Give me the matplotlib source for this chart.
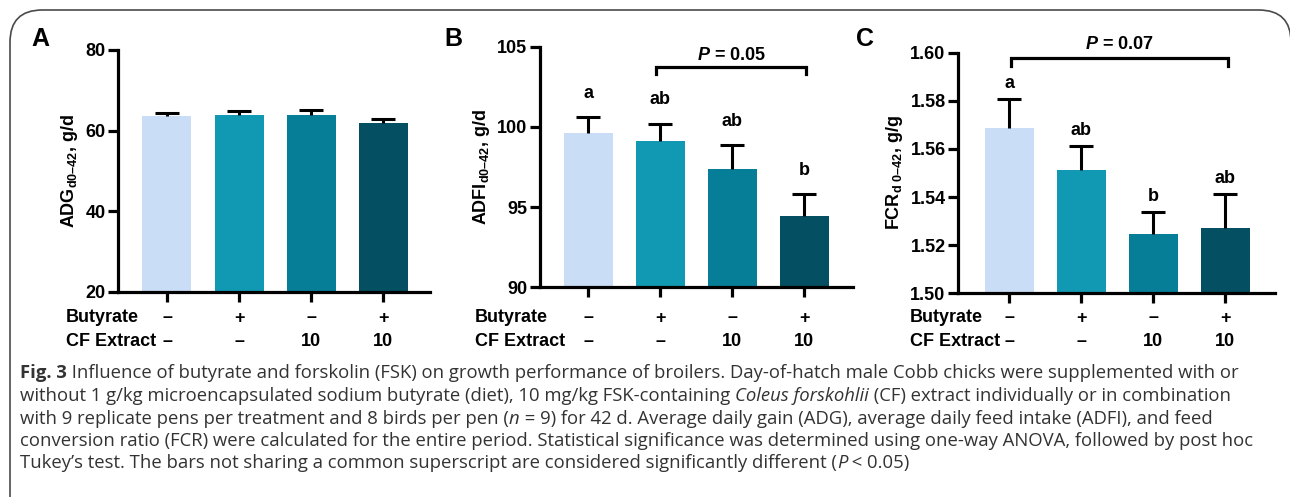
import matplotlib
matplotlib.use("Agg")
import matplotlib.pyplot as plt
from matplotlib.patches import FancyBboxPatch

W, H = 1290, 497

# -------- DATA -------- #
groups = [0, 1, 2, 3]
butyrate = ["\u2013", "+", "\u2013", "+"]
cf_extract = ["\u2013", "\u2013", "10", "10"]
colors = ["#C9DDF6", "#1199B3", "#077E97", "#044F61"]

adg = [63.6, 63.9, 63.9, 61.8]
adg_err = [0.7, 1.0, 1.2, 1.2]

adfi = [99.6, 99.1, 97.4, 94.45]
adfi_err = [1.0, 1.1, 1.45, 1.35]
adfi_letters = ["a", "ab", "ab", "b"]

fcr = [1.5687, 1.5512, 1.5246, 1.527]
fcr_err = [0.0121, 0.0101, 0.0091, 0.0143]
fcr_letters = ["a", "ab", "b", "ab"]

plt.rcParams["font.family"] = "Liberation Sans"
plt.rcParams["font.weight"] = "bold"
plt.rcParams["mathtext.fontset"] = "custom"
plt.rcParams["mathtext.rm"] = "Liberation Sans:bold"
plt.rcParams["mathtext.it"] = "Liberation Sans:bold:italic"
plt.rcParams["mathtext.bf"] = "Liberation Sans:bold"

fig = plt.figure(figsize=(W / 100, H / 100), dpi=100)

# frame around the figure (open at the bottom, right edge at the image border)
frame = FancyBboxPatch((10 / W, -0.2), 1281 / W, 1.2 - 10 / H,
                       boxstyle="round,pad=0,rounding_size=0.025",
                       transform=fig.transFigure, fill=False,
                       edgecolor="#4a4a4a", linewidth=1.2, mutation_aspect=W / H)
fig.patches.append(frame)


def px_axes(l, t, r, b):
    return fig.add_axes([l / W, 1 - b / H, (r - l) / W, (b - t) / H])


def panel(ax, vals, errs, ylim, yticks, fmt, xlim, ylabel, rowx):
    ax.bar(groups, vals, width=0.68, color=colors, zorder=2)
    eb = ax.errorbar(groups, vals, yerr=[[0] * 4, errs], fmt="none", ecolor="black",
                     elinewidth=2.2, capsize=8.5, capthick=2.2, zorder=3)
    eb[1][0].set_visible(False)  # no cap at the bar top
    ax.set_ylim(*ylim)
    ax.set_xlim(*xlim)
    ax.set_yticks(yticks)
    ax.set_yticklabels([fmt.format(v) for v in yticks], fontsize=13, fontweight="bold")
    ax.set_xticks(groups)
    ax.set_xticklabels([])
    for s in ["top", "right"]:
        ax.spines[s].set_visible(False)
    for s in ["left", "bottom"]:
        ax.spines[s].set_linewidth(2.3)
    ax.tick_params(axis="both", length=7, width=2.3, pad=2)
    ax.set_ylabel(ylabel, fontsize=13, fontweight="bold", labelpad=4)
    for i in groups:
        ax.annotate(butyrate[i], (i, H - 318), xycoords=("data", "figure pixels"),
                    ha="center", va="center", fontsize=13, fontweight="bold")
        ax.annotate(cf_extract[i], (i, H - 342), xycoords=("data", "figure pixels"),
                    ha="center", va="center", fontsize=13, fontweight="bold")
    fig.text(rowx / W, 1 - 318 / H, "Butyrate", ha="left", va="center",
             fontsize=13, fontweight="bold")
    fig.text(rowx / W, 1 - 342 / H, "CF Extract", ha="left", va="center",
             fontsize=13, fontweight="bold")


def letters(ax, vals, errs, labels, off):
    for i in groups:
        ax.annotate(labels[i], (i, vals[i] + errs[i]), xytext=(0, off),
                    textcoords="offset points", ha="center", va="baseline",
                    fontsize=13, fontweight="bold")


def bracket(ax, i0, i1, y, drop, label, ty):
    ax.plot([i0, i0, i1, i1], [y - drop, y, y, y - drop], color="black",
            linewidth=2.3, clip_on=False, solid_joinstyle="miter")
    ax.text((i0 + i1) / 2, ty, label, ha="center", va="baseline",
            fontsize=13, fontweight="bold", clip_on=False)


# -------- PANEL A -------- #
axA = px_axes(118, 50, 430, 292)
panel(axA, adg, adg_err, (20, 80), [20, 40, 60, 80], "{:.0f}", (-0.68, 3.65),
      "ADG$_{\\mathrm{d0\u201342}}$, g/d", 66)

# -------- PANEL B -------- #
axB = px_axes(540, 46.7, 853, 287.3)
panel(axB, adfi, adfi_err, (90, 105), [90, 95, 100, 105], "{:.0f}", (-0.667, 3.68),
      "ADFI$_{\\mathrm{d0\u201342}}$, g/d", 475)
letters(axB, adfi, adfi_err, adfi_letters, 14)
bracket(axB, 0.95, 3.03, 103.75, 0.45, "$P$ = 0.05", 104.2)

# -------- PANEL C -------- #
axC = px_axes(958, 52.7, 1275, 293.3)
panel(axC, fcr, fcr_err, (1.50, 1.60), [1.50, 1.52, 1.54, 1.56, 1.58, 1.60], "{:.2f}",
      (-0.715, 3.69), "FCR$_{\\mathrm{d\\ 0\u201342}}$, g/g", 910)
letters(axC, fcr, fcr_err, fcr_letters, 8)
bracket(axC, 0.02, 3.03, 1.5977, 0.0032, "$P$ = 0.07", 1.6015)

# panel letters
for lx, lab in [(40, "A"), (453, "B"), (865, "C")]:
    fig.text(lx / W, 1 - 39 / H, lab, ha="center", va="center", fontsize=18,
             fontweight="bold")

# -------- CAPTION -------- #
cap_lines = [
    [("Fig. 3", "bold", "normal"),
     (" Influence of butyrate and forskolin (FSK) on growth performance of broilers. "
      "Day-of-hatch male Cobb chicks were supplemented with or", "normal", "normal")],
    [("without 1 g/kg microencapsulated sodium butyrate (diet), 10 mg/kg FSK-containing ",
      "normal", "normal"),
     ("Coleus forskohlii", "normal", "italic"),
     (" (CF) extract individually or in combination", "normal", "normal")],
    [("with 9 replicate pens per treatment and 8 birds per pen (", "normal", "normal"),
     ("n", "normal", "italic"),
     (" = 9) for 42 d. Average daily gain (ADG), average daily feed intake (ADFI), and feed",
      "normal", "normal")],
    [("conversion ratio (FCR) were calculated for the entire period. Statistical significance "
      "was determined using one-way ANOVA, followed by post hoc", "normal", "normal")],
    [("Tukey\u2019s test. The bars not sharing a common superscript are considered "
      "significantly different (", "normal", "normal"),
     ("P", "normal", "italic"),
     (" < 0.05)", "normal", "normal")],
]
cap_y = [373, 396, 419, 441, 463]

fig.canvas.draw()
renderer = fig.canvas.get_renderer()
for runs, yy in zip(cap_lines, cap_y):
    x = 20
    for txt, wt, st in runs:
        t = fig.text(x / W, 1 - yy / H, txt, ha="left", va="center", fontsize=13.3,
                     family="Open Sans", fontweight=wt, style=st, color="#333333")
        x += t.get_window_extent(renderer).width

fig.savefig("out.png", dpi=100)
